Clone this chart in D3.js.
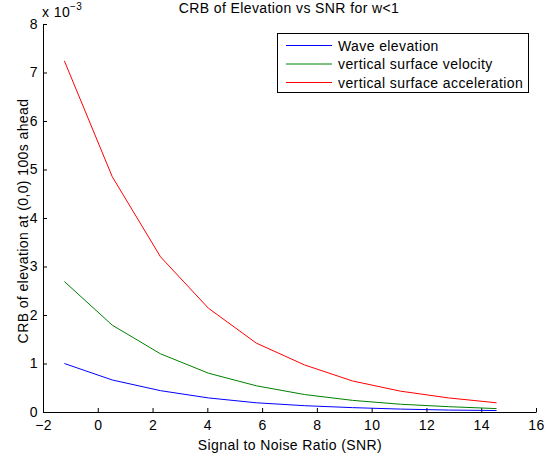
<!DOCTYPE html>
<html>
<head>
<meta charset="utf-8">
<script src="https://cdn.jsdelivr.net/npm/d3@7"></script>
<style>
  body { margin: 0; background: #fff; }
  svg text { font-family: "Liberation Sans", Arial, sans-serif; fill: #000; letter-spacing: 0.4px; }
</style>
</head>
<body>
<div id="chart"></div>
<script>
// ! Data (y values in units of 1e-3)
var snr = [-1.22, 0.53, 2.29, 4.04, 5.79, 7.55, 9.30, 11.05, 12.81, 14.56];
var elevation = [1.00, 0.66, 0.44, 0.29, 0.19, 0.13, 0.09, 0.06, 0.04, 0.03];
var velocity = [2.69, 1.79, 1.20, 0.80, 0.54, 0.36, 0.24, 0.16, 0.11, 0.07];
var acceleration = [7.24, 4.85, 3.20, 2.14, 1.42, 0.97, 0.64, 0.43, 0.29, 0.19];
var series_names = ["Wave elevation", "vertical surface velocity", "vertical surface acceleration"];
var series_colours = ["#0000ff", "#008000", "#ff0000"];
var x_ticks = [-2, 0, 2, 4, 6, 8, 10, 12, 14, 16];
var y_ticks = [0, 1, 2, 3, 4, 5, 6, 7, 8];

// ! Parameters
var width = 545, height = 460;
var left = 43, right = 536, top_y = 24, bottom = 412;
var font_size = "14px";

var svg = d3.select("#chart")
  .append("svg")
  .attr("width", width)
  .attr("height", height);

var x_scale = d3.scaleLinear().domain([-2, 16]).range([left, right]);
var y_scale = d3.scaleLinear().domain([0, 8]).range([bottom, top_y]);

// x axis, ticks pointing inwards
var xAxis = svg.append("g")
  .attr("transform", "translate(0," + bottom + ")")
  .call(d3.axisBottom(x_scale).tickValues(x_ticks).tickSizeInner(-4).tickSizeOuter(0)
    .tickFormat(function(d) { return d < 0 ? "\u2212" + Math.abs(d) : d; }));
xAxis.selectAll("text").attr("dy", 0).attr("y", 18).style("font-size", font_size);

var yAxis = svg.append("g")
  .attr("transform", "translate(" + left + ",0)")
  .call(d3.axisLeft(y_scale).tickValues(y_ticks).tickSizeInner(-4).tickSizeOuter(0));
yAxis.selectAll("text").attr("x", -5).style("font-size", font_size);

svg.selectAll(".domain").attr("stroke", "#000");
svg.selectAll(".tick line").attr("stroke", "#000");

// ! Lines
var line = d3.line()
  .x(function(d, i) { return x_scale(snr[i]); })
  .y(function(d) { return y_scale(d); });

[elevation, velocity, acceleration].forEach(function(s, i) {
  svg.append("path")
    .datum(s)
    .attr("fill", "none")
    .attr("stroke", series_colours[i])
    .attr("stroke-width", 1)
    .attr("d", line);
});

// ! Texts
svg.append("text")
  .attr("x", 289).attr("y", 13)
  .attr("text-anchor", "middle")
  .style("font-size", font_size)
  .text("CRB of Elevation vs SNR for w<1");

var exp = svg.append("text")
  .attr("x", 42).attr("y", 16.5)
  .style("font-size", font_size);
exp.append("tspan").text("x 10");
exp.append("tspan").attr("dy", -7).style("font-size", "10px").text("\u22123");

svg.append("text")
  .attr("x", 290).attr("y", 450)
  .attr("text-anchor", "middle")
  .style("font-size", font_size)
  .text("Signal to Noise Ratio (SNR)");

svg.append("text")
  .attr("transform", "translate(28,221) rotate(-90)")
  .attr("text-anchor", "middle")
  .style("font-size", font_size)
  .text("CRB of elevation at (0,0) 100s ahead");

// ! Legend
var legend = svg.append("g");
legend.append("rect")
  .attr("x", 277.5).attr("y", 33.5)
  .attr("width", 251).attr("height", 59)
  .attr("fill", "#fff").attr("stroke", "#000");

series_names.forEach(function(name, i) {
  var yy = 45.5 + i * 18.5;
  legend.append("line")
    .attr("x1", 286).attr("x2", 332)
    .attr("y1", yy).attr("y2", yy)
    .attr("stroke", series_colours[i]);
  legend.append("text")
    .attr("x", 338).attr("y", yy + 5)
    .style("font-size", font_size)
    .text(name);
});
</script>
</body>
</html>
